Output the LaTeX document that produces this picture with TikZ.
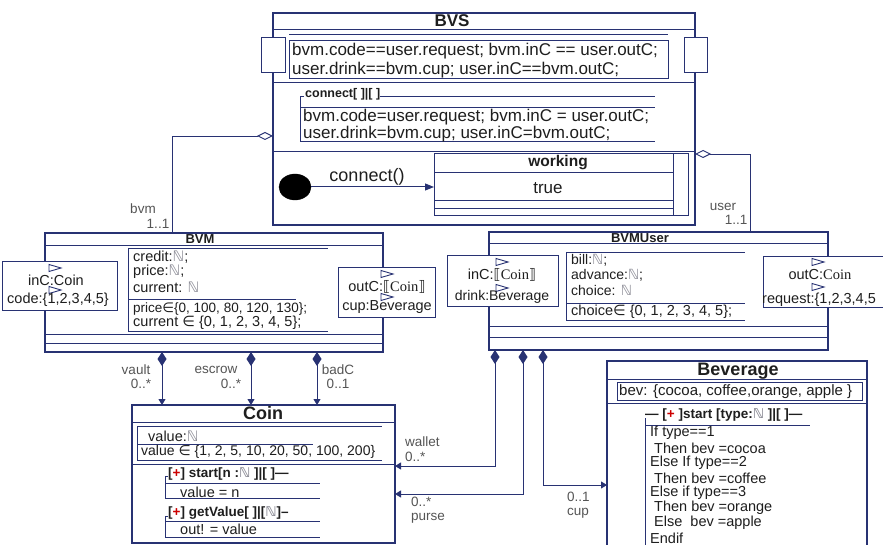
\documentclass[tikz,border=0pt]{standalone}
\usepackage{fontspec}
\setmainfont{Liberation Sans}
\newfontfamily\dv{DejaVu Sans}
\newfontfamily\sr{Liberation Serif}
\usetikzlibrary{arrows.meta,shapes.geometric}
\definecolor{navy}{RGB}{40,50,115}
\definecolor{ink}{RGB}{30,30,30}
\definecolor{lab}{RGB}{85,85,85}
\definecolor{nat}{RGB}{140,140,150}
\newcommand\fsz[1]{\fontsize{#1}{#1}\selectfont}
\newcommand\NN{{\dv\color{nat}ℕ}}
\newcommand\inn{{\dv ∈}}
\newcommand\plus{{\color{red!80!black}+}}
\newcommand\lbr{{\dv ⟦}}
\newcommand\rbr{{\dv ⟧}}
\newcommand\flag[2]{\draw[flagst] (#1-6,#2-3.5) -- (#1+6,#2) -- (#1-6,#2+3.5) -- cycle;}
\begin{document}
\begin{tikzpicture}[x=1pt,y=-1pt,
  box/.style={draw=navy, line width=1.1pt, fill=white, inner sep=0pt, outer sep=0pt, anchor=north west},
  port/.style={box, line width=1pt},
  ln/.style={draw=navy, line width=0.9pt},
  flagst/.style={draw=navy, line width=0.9pt, fill=white},
  txt/.style={inner sep=0pt, text=ink, font=\fsz{14.5}, anchor=west},
  ctxt/.style={txt, anchor=center},
  big/.style={txt, font=\fsz{17}},
  ttl/.style={ctxt, font=\bfseries\fsz{13}},
  bigttl/.style={ctxt, font=\bfseries\fsz{18}},
  lbl/.style={ctxt, text=lab, font=\fsz{13.5}},
  comp/.style={draw=navy, line width=1pt, {Diamond[width=9pt,length=14pt]}-{Triangle[width=7pt,length=6pt]}},
  agg/.style={draw=navy, line width=0.9pt, {Diamond[fill=white,width=8pt,length=16pt]}-},
  arr/.style={draw=navy, line width=1pt, -{Triangle[width=7pt,length=9pt]}}
]
\useasboundingbox (0,0) rectangle (883,545);
\fill[white] (0,0) rectangle (883,545);
\clip (0,0) rectangle (883,545);
\coordinate (h96) at (0,96);

% ---------------- BVS ----------------
\node[box, minimum width=422pt, minimum height=212pt] (bvs) at (273,13) {};
\node[ctxt, font=\bfseries\fsz{17}] (bvsT) at (452,21) {BVS};
\draw[ln] (273,29) -- (695,29);
\draw[ln] (289,34) -- (668,34);
\draw[ln] (289,40) rectangle (668,78);
\node[big] (s1) at (292,51) {bvm.code==user.request; bvm.inC == user.outC;};
\node[big] (s2) at (292,70) {user.drink==bvm.cup; user.inC==bvm.outC;};
\draw[ln] (273,82) -- (695,82);
\node[txt, font=\bfseries\fsz{12.5}] (cn) at (305,94) {connect[ ]|[ ]};
\draw[ln] (304,96) -- (300,96) -- (300,141) -- (655,141);
\draw[ln] (cn.east |- h96) -- (655,96);
\draw[ln] (300,107) -- (655,107);
\node[big] (c1) at (303,117) {bvm.code=user.request; bvm.inC = user.outC;};
\node[big] (c2) at (303,134) {user.drink=bvm.cup; user.inC=bvm.outC;};
\draw[ln] (273,151) -- (695,151);
\node[port, minimum width=24pt, minimum height=35pt] (pL) at (261,38) {};
\node[port, minimum width=23pt, minimum height=35pt] (pR) at (684,38) {};

% state machine
\node[fill=black, draw=black, ellipse, minimum width=32pt, minimum height=26pt, inner sep=0pt] (init) at (295,187) {};
\node[box, line width=1pt, minimum width=254pt, minimum height=62pt] (work) at (434,154) {};
\draw[ln] (673,154) -- (673,216);
\draw[ln] (434,172) -- (673,172);
\draw[ln] (434,200) -- (673,200);
\draw[ln] (434,208) -- (673,208);
\node[ctxt, font=\bfseries\fsz{15.5}] (workT) at (558,163) {working};
\node[ctxt, font=\fsz{17}] (true) at (548,188) {true};
\draw[arr] (init.east) -- (init.east -| work.west);
\node[ctxt, font=\fsz{18}] (cnl) at (367,177) {connect()};

% ---------------- BVM ----------------
\node[box, minimum width=338pt, minimum height=119pt] (bvm) at (45,233) {};
\node[ttl] (bvmT) at (200,239) {BVM};
\draw[ln] (45,245) -- (383,245);
\draw[ln] (128,248) -- (328,248);
\draw[ln] (128,248) -- (128,331) -- (328,331);
\draw[ln] (128,299) -- (296,299);
\node[txt] (b1) at (133,257) {credit:\NN;};
\node[txt] (b2) at (133,272) {price:\NN;};
\node[txt] (b3) at (133,287) {current: \NN};
\node[txt, font=\fsz{13.5}] (b4) at (133,309) {price\inn\{0, 100, 80, 120, 130\};};
\node[txt] (b5) at (133,323) {current \inn\ \{0, 1, 2, 3, 4, 5\};};
\draw[ln] (45,334) -- (383,334);
\draw[ln] (45,343) -- (383,343);
\node[port, minimum width=115pt, minimum height=48pt] (bvmL) at (2,262) {};
\flag{55}{268}\flag{55}{290}
\node[ctxt] (bl1) at (56,280) {inC:Coin};
\node[ctxt] (bl2) at (58,300) {code:\{1,2,3,4,5\}};
\node[port, minimum width=97pt, minimum height=49pt] (bvmR) at (338,268) {};
\flag{387}{274}\flag{387}{297}
\node[ctxt] (br1) at (387,287) {outC:\lbr{\sr Coin}\rbr};
\node[ctxt] (br2) at (387,307) {cup:Beverage};

% ---------------- BVMUser ----------------
\node[box, minimum width=339pt, minimum height=118pt] (bvmu) at (489,232) {};
\node[ttl] (bvmuT) at (640,238) {BVMUser};
\draw[ln] (489,243) -- (828,243);
\draw[ln] (566,252) -- (745,252);
\draw[ln] (566,252) -- (566,320) -- (745,320);
\draw[ln] (566,303) -- (745,303);
\node[txt, font=\fsz{14}] (u1) at (571,260) {bill:\NN;};
\node[txt, font=\fsz{14}] (u2) at (571,275) {advance:\NN;};
\node[txt, font=\fsz{14}] (u3) at (571,290) {choice: \NN};
\node[txt] (u4) at (571,312) {choice\inn\ \{0, 1, 2, 3, 4, 5\};};
\draw[ln] (489,326) -- (828,326);
\draw[ln] (489,337) -- (828,337);
\node[port, minimum width=111pt, minimum height=50pt] (uL) at (447,256) {};
\flag{502}{262}\flag{502}{288}
\node[ctxt] (ul1) at (502,275) {inC:\lbr{\sr Coin}\rbr};
\node[ctxt, font=\fsz{14}] (ul2) at (502,297) {drink:Beverage};
\node[port, minimum width=140pt, minimum height=50pt] (uR) at (763,257) {};
\flag{818}{262}\flag{818}{287}
\node[ctxt] (ur1) at (820,275) {outC:{\sr Coin}};
\node[txt] (ur2) at (762,300) {request:\{1,2,3,4,5};

% ---------------- Coin ----------------
\node[box, minimum width=263pt, minimum height=138pt] (coin) at (132,405) {};
\node[bigttl] (coinT) at (263,413) {Coin};
\draw[ln] (132,422) -- (395,422);
\draw[ln] (137,426) -- (382,426);
\draw[ln] (137,426) -- (137,460) -- (382,460);
\draw[ln] (137,444) -- (313,444);
\node[txt] (k1) at (148,436) {value:\NN};
\node[txt, font=\fsz{14}] (k2) at (141,452) {value \inn\ \{1, 2, 5, 10, 20, 50, 100, 200\}};
\draw[ln] (132,464) -- (395,464);
\draw[ln] (168,476) -- (165,476) -- (165,498) -- (320,498);
\draw[ln] (165,483) -- (320,483);
\node[txt, font=\bfseries\fsz{13.5}] (o1) at (168,474) {[\plus] start[n :\NN\ ]|[ ]—};
\node[txt] (o1a) at (180,492) {value = n};
\draw[ln] (168,516) -- (165,516) -- (165,537) -- (320,537);
\draw[ln] (165,521) -- (320,521);
\node[txt, font=\bfseries\fsz{13.5}] (o2) at (168,513) {[\plus] getValue[ ]|[\NN]–};
\node[txt] (o2a) at (180,529) {out! = value};

% ---------------- Beverage ----------------
\node[box, minimum width=260pt, minimum height=200pt] (bev) at (607,361) {};
\node[bigttl] (bevT) at (738,371) {Beverage};
\draw[ln] (607,379) -- (867,379);
\draw[ln] (617,382) rectangle (862,400);
\node[txt, font=\fsz{15}] (v1) at (619,392) {bev: \{cocoa, coffee,orange, apple \}};
\draw[ln] (607,403) -- (867,403);
\draw[ln] (645,418) -- (645,560);
\draw[ln] (645,425) -- (810,425);
\node[txt, font=\bfseries\fsz{13.5}] (vh) at (645,415) {— [\plus\ ]start [type:\NN\ ]|[ ]—};
\node[txt] (v2) at (650,433) {If type==1};
\node[txt] (v3) at (654,448) {Then bev =cocoa};
\node[txt] (v4) at (650,463) {Else If type==2};
\node[txt] (v5) at (654,478) {Then bev =coffee};
\node[txt] (v6) at (650,493) {Else if type==3};
\node[txt] (v7) at (654,508) {Then bev =orange};
\node[txt] (v8) at (654,523) {Else \ bev =apple};
\node[txt] (v9) at (650,538) {Endif};

% ---------------- connectors ----------------
\draw[agg] ([yshift=-123pt]bvs.north west) -| ([xshift=127pt]bvm.north west);
\node[lbl] (l1) at (143,209) {bvm};
\node[lbl] (l2) at (158,224) {1..1};
\draw[agg] ([yshift=-141pt]bvs.north east) -| ([xshift=261pt]bvmu.north west);
\node[lbl] (l3) at (723,207) {user};
\node[lbl] (l4) at (736,220) {1..1};

\draw[comp] ([xshift=117pt]bvm.south west) -- ([xshift=30pt]coin.north west);
\draw[comp] ([xshift=206pt]bvm.south west) -- ([xshift=119pt]coin.north west);
\draw[comp] ([xshift=272pt]bvm.south west) -- ([xshift=185pt]coin.north west);
\node[lbl] (l5) at (136,370) {vault};
\node[lbl] (l6) at (141,384) {0..*};
\node[lbl] (l7) at (216,370) {escrow};
\node[lbl] (l8) at (231,384) {0..*};
\node[lbl] (l9) at (338,370) {badC};
\node[lbl] (l10) at (338,384) {0..1};

\draw[comp] ([xshift=6pt]bvmu.south west) |- ([yshift=-61pt]coin.north east);
\draw[comp] ([xshift=34pt]bvmu.south west) |- ([yshift=-89pt]coin.north east);
\draw[comp] ([xshift=54pt]bvmu.south west) |- ([yshift=-124pt]bev.north west);
\node[lbl, anchor=west] (l11) at (405,442) {wallet};
\node[lbl, anchor=west] (l12) at (405,457) {0..*};
\node[lbl, anchor=west] (l13) at (411,502) {0..*};
\node[lbl, anchor=west] (l14) at (411,518) {purse};
\node[lbl, anchor=west] (l15) at (567,497) {0..1};
\node[lbl, anchor=west] (l16) at (567,513) {cup};
\end{tikzpicture}
\end{document}
